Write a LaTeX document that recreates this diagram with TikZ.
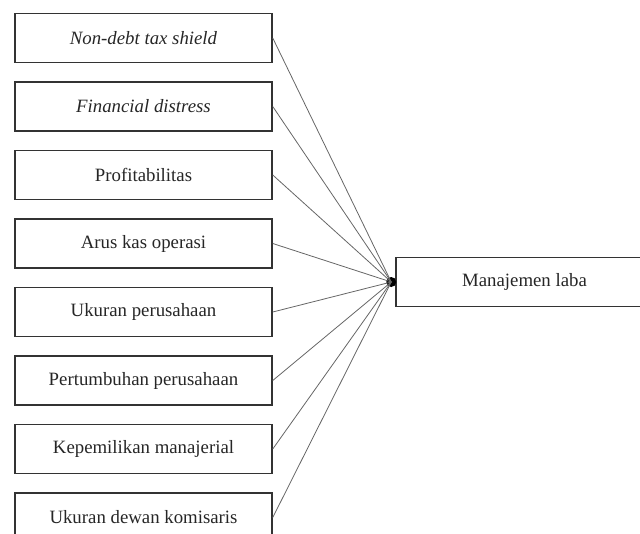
\documentclass[tikz,border=0pt]{standalone}
\usepackage{fontspec}
\setmainfont{Liberation Serif}
\usetikzlibrary{positioning}
\tikzset{
    % Boxes
    var box/.style={draw=black!80, line width=1.5pt, minimum width=257pt, minimum height=49pt, inner sep=0pt, text=black!85},
    %
    % Connectors
    link/.style={draw=black!60, line width=0.8pt},
    hub point/.style={circle, inner sep=0pt, outer sep=0pt, fill=black, minimum size=10pt}
}
\tikzstyle{every node}=[font=\fontsize{18.8}{22}\selectfont]

\begin{document}
\begin{tikzpicture}[x=1pt, y=-1pt, node distance=18pt]
    \useasboundingbox (0,0) rectangle (640,533);
    \node[var box] (ndts) at (143.5,38) {\textit{Non-debt tax shield}};
    \node[var box, below=of ndts] (fd) {\textit{Financial distress}};
    \node[var box, below=of fd] (prof) {Profitabilitas};
    \node[var box, below=of prof] (ako) {Arus kas operasi};
    \node[var box, below=of ako] (up) {Ukuran perusahaan};
    \node[var box, below=of up] (pp) {Pertumbuhan perusahaan};
    \node[var box, below=of pp] (km) {Kepemilikan manajerial};
    \node[var box, below=of km] (udk) {Ukuran dewan komisaris};
    \node[var box] (laba) at (524.5,282) {Manajemen laba};
    \node[hub point] (hub) at ([xshift=-4pt]laba.west) {};
    \foreach \v in {ndts,fd,prof,ako,up,pp,km,udk}
        \draw[link] (\v.east) -- (hub.center);
\end{tikzpicture}
\end{document}
